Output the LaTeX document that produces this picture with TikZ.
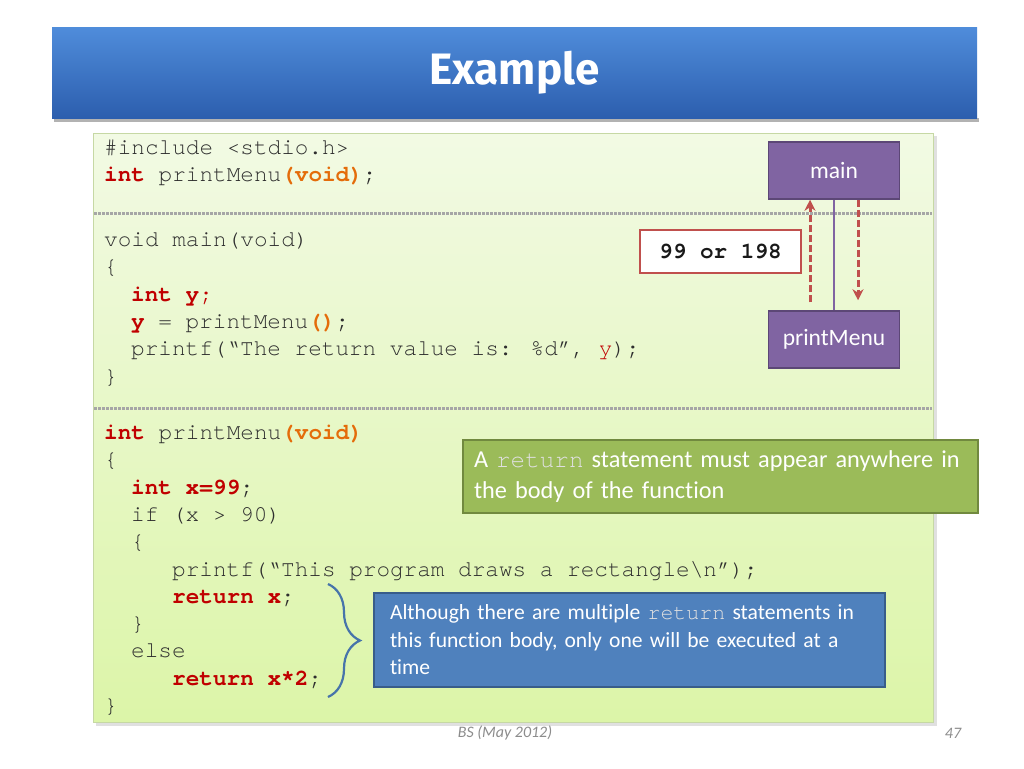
\documentclass[tikz,border=0pt]{standalone}
\usepackage{fontspec}
\setmainfont{Carlito}[Ligatures=NoCommon]
\newfontfamily\codefont{TeX Gyre Cursor}
\newfontfamily\titlefont{Fira Sans}
\usetikzlibrary{calc,arrows.meta,decorations.pathreplacing}

\definecolor{kwred}{HTML}{C00000}
\definecolor{parorange}{HTML}{E46C0A}
\definecolor{codegray}{HTML}{2E2E2E}
\definecolor{purplefill}{HTML}{8064A2}
\definecolor{purpleline}{HTML}{5C4776}
\definecolor{retred}{HTML}{C0504D}
\definecolor{notegreen}{HTML}{9BBB59}
\definecolor{notegreenline}{HTML}{71893F}
\definecolor{noteblue}{HTML}{4F81BD}
\definecolor{noteblueline}{HTML}{385D8A}
\definecolor{paneltop}{HTML}{F2FAE4}
\definecolor{panelbot}{HTML}{DCF5A8}
\definecolor{panelline}{HTML}{C6D8A4}
\definecolor{titletop}{HTML}{4F8CDA}
\definecolor{titlebot}{HTML}{2C5EAE}

\newcommand\kw[1]{\textcolor{kwred}{\bfseries #1}}
\newcommand\pn[1]{\textcolor{parorange}{\bfseries #1}}
\newcommand\rd[1]{\textcolor{kwred}{#1}}
\newcommand\cw[1]{{\codefont\color{white!88!black}#1}}

\begin{document}
\begin{tikzpicture}[x=1pt,y=-1pt,
  code/.style={anchor=west,inner sep=0pt,text height=16pt,text depth=5pt,
    font=\codefont\fontsize{22.7}{27}\selectfont,text=codegray},
  frame/.style={draw=purpleline,fill=purplefill,line width=1.5pt,
    minimum width=131pt,minimum height=57pt,text=white,
    font=\fontsize{23.5}{28}\selectfont},
  ret/.style={retred,line width=3pt,dash pattern=on 7pt off 3pt,
    -{Stealth[length=11pt,width=11pt]}},
  note/.style={line width=1.5pt,text=white,align=left,inner ysep=4pt},
  sep/.style={black!35,line width=3pt,dash pattern=on 2.5pt off 1.5pt},
  brace/.style={decorate,decoration={brace,amplitude=32pt},
    draw=noteblue!90!black,line width=2.2pt}]
  \def\lh{27.3}
  \useasboundingbox (0,0) rectangle (1024,768);
  \fill[white] (0,0) rectangle (1024,768);

  % Title band
  \fill[black!30] (54,118) rectangle (979,122);
  \node[top color=titletop,bottom color=titlebot,minimum width=925pt,
    minimum height=90pt,inner sep=0pt,text=white,
    font=\titlefont\bfseries\fontsize{44}{50}\selectfont] (title) at (514.5,73) {Example};

  % Code panel
  \fill[black!12] (96,136) rectangle (937,726);
  \shadedraw[top color=paneltop,bottom color=panelbot,draw=panelline,
    line width=1pt] (93,133) rectangle (933,722);
  \draw[sep] (94,213) -- (932,213);
  \draw[sep] (94,408) -- (932,408);

  \node[code] (c1) at (104,149) {\#include <stdio.h>};
  \node[code] (c2) at (104,{149+\lh}) {\kw{int} printMenu\pn{(void)};};

  \node[code] (c3) at (104,241) {void main(void)};
  \node[code] (c4) at (104,{241+\lh}) {\{};
  \node[code] (c5) at (131,{241+2*\lh}) {\kw{int y}\rd{;}};
  \node[code] (c6) at (131,{241+3*\lh}) {\kw{y} = printMenu\pn{()};};
  \node[code] (c7) at (131,{241+4*\lh}) {printf(“The return value is: \%d”, \rd{y});};
  \node[code] (c8) at (104,{241+5*\lh}) {\}};

  \node[code] (c9) at (104,434) {\kw{int} printMenu\pn{(void)}};
  \node[code] (c10) at (104,{434+\lh}) {\{};
  \node[code] (c11) at (131,{434+2*\lh}) {\kw{int x=99};};
  \node[code] (c12) at (131,{434+3*\lh}) {if (x > 90)};
  \node[code] (c13) at (131,{434+4*\lh}) {\{};
  \node[code] (c14) at (172,{434+5*\lh}) {printf(“This program draws a rectangle\textbackslash n”);};
  \node[code] (c15) at (172,{434+6*\lh}) {\kw{return x};};
  \node[code] (c16) at (131,{434+7*\lh}) {\}};
  \node[code] (c17) at (131,{434+8*\lh}) {else};
  \node[code] (c18) at (172,{434+9*\lh}) {\kw{return x*2};};
  \node[code] (c19) at (104,{434+10*\lh}) {\}};

  % Call and return
  \node[frame] (main) at (834,170.5) {main};
  \node[frame] (pm) at (834,339.5) {printMenu};
  \draw[purplefill,line width=2.5pt] (main.south) -- (pm.north);
  \draw[ret] ([xshift=-24pt,yshift=8pt]pm.north) -- ([xshift=-24pt]main.south);
  \draw[ret] ([xshift=24pt]main.south) -- ([xshift=24pt,yshift=10pt]pm.north);
  \node[draw=retred,fill=white,line width=2pt,minimum width=161pt,
    minimum height=43pt,text=black!90,
    font=\codefont\bfseries\fontsize{22.7}{27}\selectfont] (val) at (720.5,251.5) {99 or 198};

  % Notes
  \node[note,fill=notegreen,draw=notegreenline,minimum width=515pt,
    minimum height=73pt,text width=493pt,inner xsep=10pt,
    font=\fontsize{24.3}{31}\selectfont] (anywhere) at (720.5,476.5)
    {A \cw{return} statement must appear anywhere in\\the body of the function};
  \draw[brace] (328,584) -- (328,697);
  \node[note,fill=noteblue,draw=noteblueline,minimum width=511pt,
    minimum height=94pt,text width=479pt,inner xsep=15pt,
    font=\fontsize{21.6}{27.5}\selectfont] (onlyone) at (629.5,640)
    {Although there are multiple \cw{return} statements in\\this function body, only one will be executed at a\\time};

  % Footer
  \node[text=black!45,font=\itshape\fontsize{16}{19}\selectfont] (date) at (505,733) {BS (May 2012)};
  \node[text=black!45,font=\itshape\fontsize{16}{19}\selectfont] (page) at (953,733) {47};
\end{tikzpicture}
\end{document}
